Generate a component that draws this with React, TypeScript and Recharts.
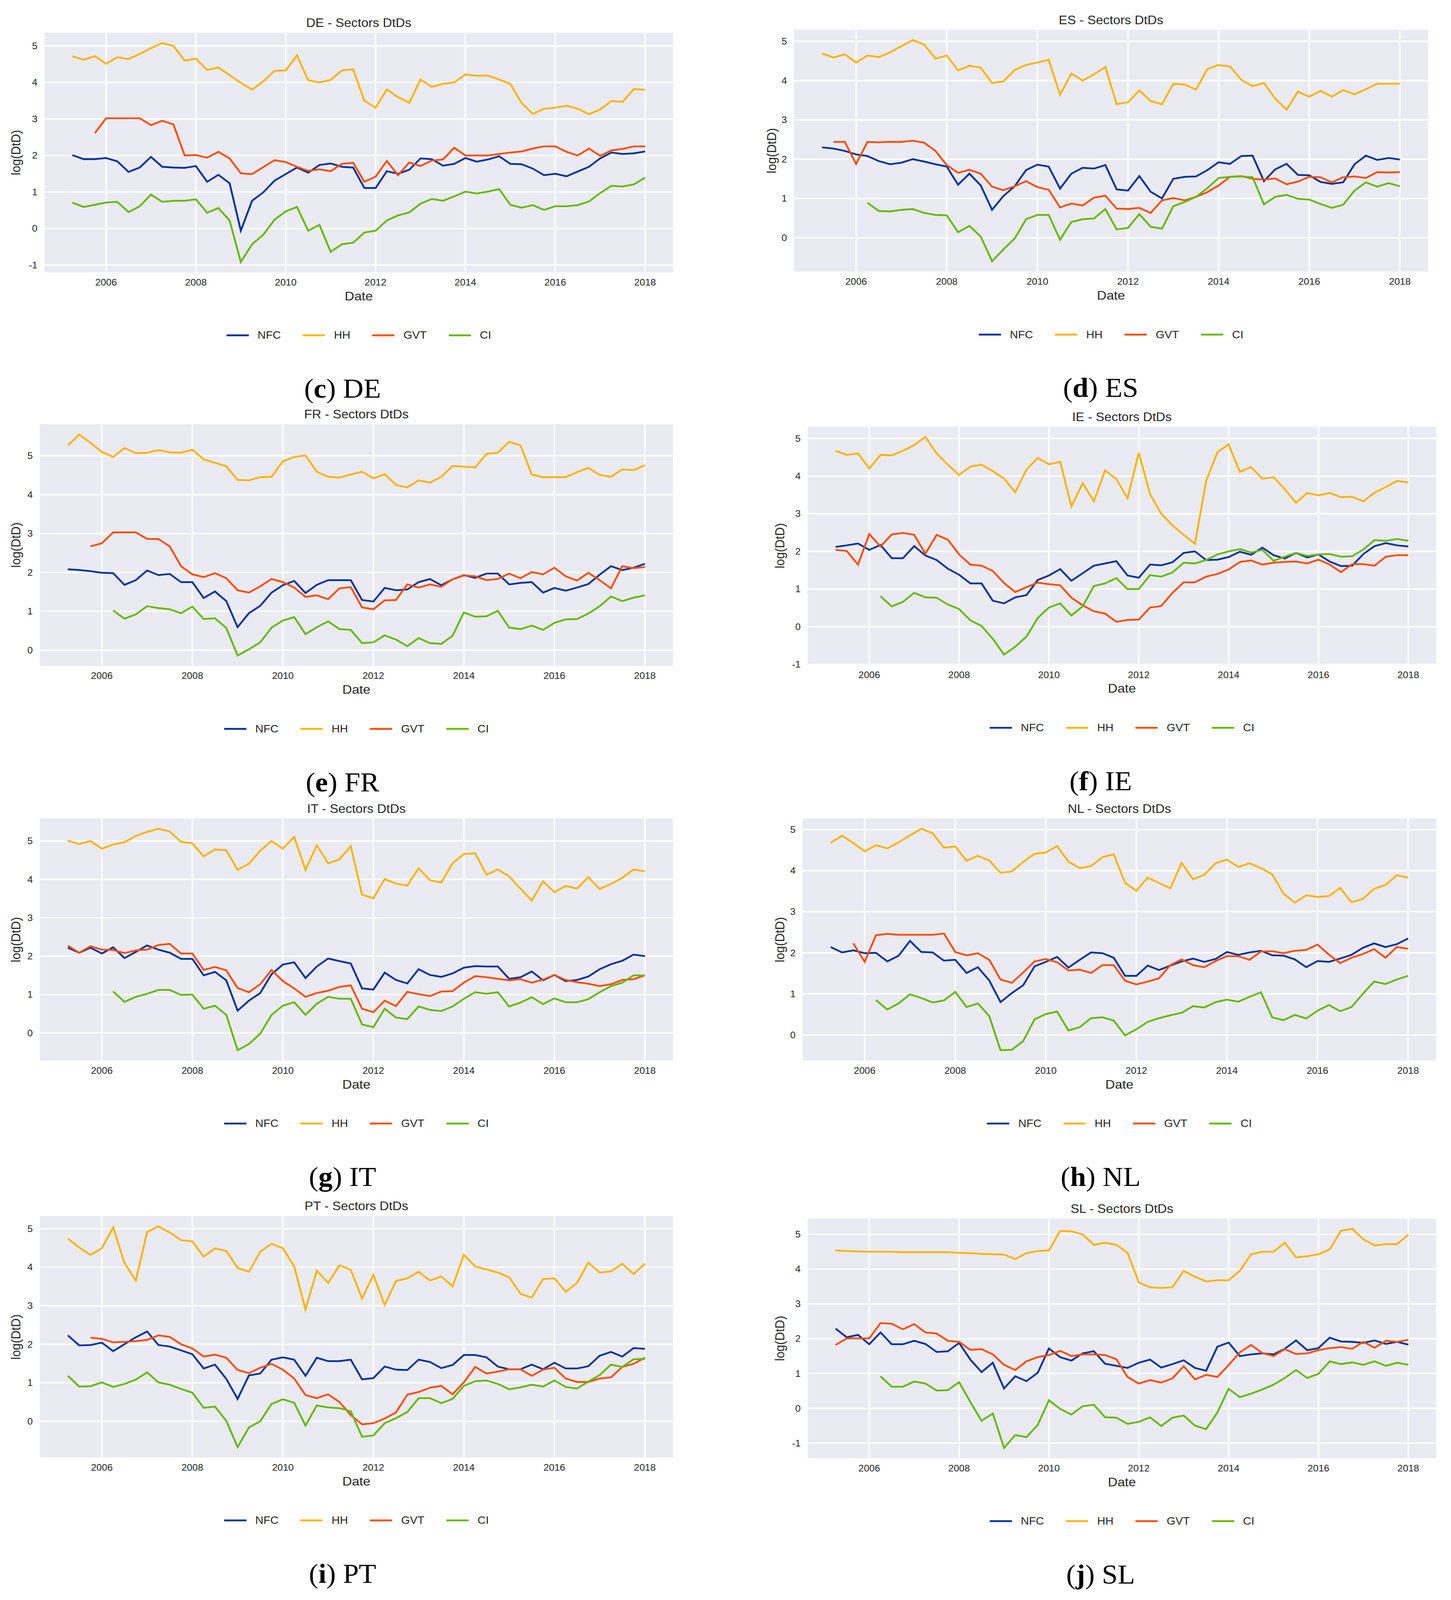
import React from "react";
import { LineChart, Line, XAxis, YAxis, CartesianGrid } from "recharts";

// quarterly observation dates
const quarters = [
  2005.25, 2005.5, 2005.75, 2006, 2006.25, 2006.5, 2006.75, 2007, 2007.25, 2007.5, 2007.75, 2008,
  2008.25, 2008.5, 2008.75, 2009, 2009.25, 2009.5, 2009.75, 2010, 2010.25, 2010.5, 2010.75, 2011,
  2011.25, 2011.5, 2011.75, 2012, 2012.25, 2012.5, 2012.75, 2013, 2013.25, 2013.5, 2013.75, 2014,
  2014.25, 2014.5, 2014.75, 2015, 2015.25, 2015.5, 2015.75, 2016, 2016.25, 2016.5, 2016.75, 2017,
  2017.25, 2017.5, 2017.75, 2018,
];
const xTicks = [2006, 2008, 2010, 2012, 2014, 2016, 2018];
const sectors = ["NFC", "HH", "GVT", "CI"];
const sectorColors = ["#003399", "#FFB300", "#FF4D00", "#66B800"];

type S = (number | null)[];
const _ = null;

const DE_NFC: S = [2.01,1.9,1.9,1.93,1.84,1.55,1.67,1.96,1.69,1.67,1.66,1.71,1.28,1.47,1.24,-0.06,0.76,0.99,1.31,1.49,1.67,1.53,1.74,1.78,1.69,1.67,1.11,1.11,1.57,1.5,1.61,1.92,1.9,1.72,1.77,1.93,1.83,1.89,1.98,1.77,1.76,1.64,1.46,1.5,1.43,1.56,1.69,1.92,2.08,2.04,2.06,2.11];
const DE_HH: S = [4.72,4.62,4.72,4.51,4.69,4.64,4.78,4.94,5.08,5.0,4.6,4.65,4.34,4.41,4.2,3.99,3.8,4.03,4.32,4.33,4.74,4.06,4.0,4.07,4.33,4.36,3.5,3.31,3.81,3.6,3.44,4.08,3.88,3.96,4.0,4.22,4.18,4.19,4.08,3.96,3.44,3.14,3.28,3.31,3.36,3.28,3.13,3.26,3.49,3.47,3.82,3.8];
const DE_GVT: S = [_,_,2.61,3.02,3.02,3.02,3.02,2.83,2.95,2.85,2.0,2.01,1.94,2.1,1.92,1.51,1.49,1.68,1.87,1.82,1.69,1.58,1.62,1.57,1.77,1.8,1.28,1.42,1.85,1.46,1.81,1.71,1.86,1.89,2.21,2.0,2.0,2.0,2.04,2.08,2.11,2.19,2.25,2.25,2.1,2.0,2.19,1.99,2.14,2.18,2.25,2.25];
const DE_CI: S = [0.71,0.59,0.65,0.71,0.73,0.45,0.61,0.93,0.73,0.76,0.76,0.8,0.43,0.56,0.22,-0.92,-0.43,-0.17,0.24,0.47,0.59,-0.06,0.1,-0.64,-0.43,-0.39,-0.11,-0.06,0.22,0.36,0.44,0.68,0.81,0.76,0.88,1.01,0.96,1.01,1.08,0.65,0.57,0.64,0.51,0.61,0.61,0.64,0.74,0.97,1.17,1.15,1.21,1.39];

const ES_NFC: S = [2.3,2.27,2.21,2.12,2.08,1.95,1.87,1.91,2.0,1.94,1.87,1.81,1.35,1.63,1.33,0.71,1.06,1.31,1.72,1.86,1.81,1.25,1.63,1.78,1.76,1.85,1.23,1.2,1.57,1.17,1.0,1.5,1.55,1.56,1.72,1.92,1.88,2.08,2.09,1.44,1.74,1.88,1.6,1.59,1.42,1.37,1.41,1.87,2.09,1.98,2.03,1.99];
const ES_HH: S = [4.69,4.59,4.67,4.46,4.64,4.6,4.72,4.88,5.03,4.92,4.56,4.64,4.26,4.38,4.33,3.94,3.98,4.27,4.4,4.46,4.53,3.64,4.18,4.0,4.16,4.35,3.4,3.45,3.75,3.48,3.4,3.92,3.9,3.77,4.29,4.4,4.36,4.02,3.86,3.94,3.54,3.26,3.72,3.59,3.74,3.59,3.76,3.65,3.78,3.92,3.92,3.92];
const ES_GVT: S = [_,2.44,2.44,1.88,2.44,2.43,2.44,2.44,2.47,2.42,2.21,1.85,1.65,1.73,1.63,1.3,1.21,1.31,1.44,1.29,1.22,0.77,0.87,0.82,1.02,1.07,0.74,0.73,0.76,0.63,0.95,1.01,0.95,1.04,1.16,1.33,1.55,1.57,1.5,1.48,1.51,1.36,1.43,1.55,1.54,1.41,1.54,1.56,1.52,1.67,1.66,1.67];
const ES_CI: S = [_,_,_,_,0.89,0.68,0.67,0.71,0.73,0.63,0.58,0.57,0.14,0.3,0.03,-0.6,-0.3,-0.02,0.47,0.58,0.58,-0.05,0.4,0.47,0.49,0.73,0.21,0.25,0.6,0.28,0.23,0.8,0.91,1.04,1.26,1.52,1.55,1.56,1.54,0.85,1.04,1.09,0.99,0.97,0.86,0.76,0.84,1.2,1.41,1.3,1.39,1.31];

const FR_NFC: S = [2.08,2.06,2.03,1.99,1.98,1.68,1.8,2.05,1.93,1.96,1.75,1.75,1.34,1.51,1.26,0.59,0.95,1.14,1.48,1.67,1.78,1.47,1.68,1.8,1.8,1.8,1.29,1.25,1.6,1.54,1.56,1.75,1.83,1.67,1.82,1.93,1.86,1.97,1.97,1.69,1.73,1.75,1.48,1.6,1.53,1.61,1.7,1.94,2.16,2.06,2.12,2.22];
const FR_HH: S = [5.27,5.55,5.33,5.1,4.97,5.2,5.07,5.08,5.15,5.09,5.08,5.16,4.91,4.82,4.73,4.38,4.37,4.45,4.46,4.86,4.97,5.01,4.59,4.46,4.44,4.52,4.59,4.42,4.53,4.25,4.19,4.37,4.31,4.46,4.74,4.72,4.7,5.05,5.08,5.36,5.27,4.52,4.45,4.45,4.45,4.58,4.69,4.51,4.46,4.65,4.63,4.76];
const FR_GVT: S = [_,_,2.67,2.75,3.03,3.03,3.03,2.86,2.86,2.67,2.16,1.95,1.88,1.98,1.85,1.54,1.48,1.64,1.83,1.75,1.61,1.37,1.41,1.31,1.59,1.62,1.1,1.05,1.28,1.29,1.69,1.61,1.69,1.63,1.82,1.92,1.9,1.8,1.83,1.97,1.85,2.01,1.95,2.12,1.9,1.79,1.99,1.8,1.59,2.16,2.11,2.14];
const FR_CI: S = [_,_,_,_,1.02,0.81,0.92,1.13,1.08,1.05,0.95,1.12,0.8,0.82,0.57,-0.14,0.02,0.2,0.58,0.76,0.85,0.41,0.59,0.74,0.54,0.52,0.18,0.2,0.38,0.27,0.1,0.31,0.18,0.16,0.37,0.97,0.86,0.87,1.01,0.58,0.54,0.63,0.52,0.7,0.79,0.8,0.94,1.13,1.38,1.26,1.35,1.41];

const IE_NFC: S = [2.12,2.16,2.21,2.04,2.17,1.82,1.82,2.14,1.89,1.77,1.54,1.38,1.15,1.15,0.69,0.62,0.78,0.84,1.24,1.36,1.53,1.22,1.42,1.62,1.68,1.74,1.36,1.3,1.65,1.63,1.71,1.96,2.0,1.77,1.78,1.85,1.99,1.91,2.1,1.9,1.81,1.96,1.84,1.92,1.73,1.61,1.62,1.93,2.14,2.22,2.16,2.13];
const IE_HH: S = [4.67,4.56,4.6,4.2,4.56,4.55,4.67,4.82,5.04,4.6,4.3,4.03,4.25,4.3,4.13,3.93,3.57,4.17,4.48,4.31,4.38,3.19,3.81,3.33,4.15,3.92,3.41,4.62,3.52,3.0,2.69,2.44,2.2,3.87,4.63,4.84,4.11,4.24,3.93,3.97,3.65,3.29,3.55,3.49,3.55,3.44,3.45,3.33,3.56,3.71,3.87,3.83];
const IE_GVT: S = [2.04,2.01,1.65,2.46,2.13,2.45,2.49,2.44,1.94,2.44,2.31,1.92,1.65,1.62,1.48,1.16,0.92,1.05,1.17,1.13,1.1,0.77,0.57,0.41,0.35,0.13,0.18,0.19,0.51,0.55,0.9,1.18,1.18,1.33,1.4,1.52,1.72,1.76,1.65,1.7,1.72,1.73,1.68,1.78,1.65,1.45,1.66,1.66,1.62,1.86,1.9,1.9];
const IE_CI: S = [_,_,_,_,0.81,0.54,0.66,0.9,0.78,0.77,0.59,0.47,0.17,0.02,-0.32,-0.74,-0.53,-0.26,0.23,0.51,0.62,0.3,0.54,1.08,1.15,1.29,1.0,1.0,1.37,1.33,1.44,1.7,1.68,1.77,1.92,2.0,2.06,1.97,2.04,1.75,1.86,1.96,1.88,1.92,1.93,1.86,1.87,2.05,2.3,2.28,2.33,2.28];

const IT_NFC: S = [2.22,2.09,2.22,2.07,2.23,1.95,2.11,2.28,2.17,2.09,1.93,1.93,1.5,1.59,1.37,0.58,0.84,1.04,1.53,1.78,1.84,1.43,1.73,1.94,1.87,1.81,1.16,1.13,1.57,1.38,1.29,1.66,1.51,1.46,1.55,1.7,1.74,1.73,1.73,1.41,1.45,1.6,1.37,1.51,1.35,1.38,1.47,1.66,1.79,1.88,2.04,2.0];
const IT_HH: S = [5.01,4.92,5.0,4.8,4.91,4.97,5.13,5.24,5.32,5.25,4.98,4.94,4.6,4.78,4.76,4.25,4.41,4.75,5.0,4.8,5.11,4.25,4.89,4.42,4.52,4.87,3.6,3.51,4.01,3.89,3.84,4.29,3.98,3.92,4.42,4.66,4.68,4.12,4.26,4.08,3.76,3.45,3.95,3.67,3.83,3.76,4.06,3.75,3.88,4.04,4.26,4.21];
const IT_GVT: S = [2.27,2.09,2.26,2.17,2.16,2.08,2.15,2.17,2.29,2.32,2.07,2.07,1.64,1.72,1.63,1.17,1.06,1.27,1.64,1.35,1.16,0.94,1.04,1.1,1.2,1.24,0.63,0.54,0.84,0.7,1.07,1.01,0.96,1.08,1.09,1.31,1.48,1.45,1.41,1.37,1.4,1.31,1.39,1.51,1.38,1.32,1.28,1.22,1.27,1.38,1.4,1.5];
const IT_CI: S = [_,_,_,_,1.08,0.81,0.94,1.02,1.12,1.12,0.99,1.0,0.63,0.71,0.47,-0.45,-0.29,-0.02,0.47,0.71,0.8,0.47,0.76,0.94,0.89,0.89,0.22,0.15,0.63,0.4,0.36,0.69,0.6,0.57,0.69,0.89,1.06,1.02,1.06,0.69,0.79,0.93,0.75,0.9,0.8,0.8,0.88,1.06,1.22,1.31,1.5,1.5];

const NL_NFC: S = [2.14,2.01,2.06,1.99,2.0,1.79,1.93,2.29,2.02,2.01,1.81,1.83,1.51,1.65,1.33,0.8,1.02,1.21,1.67,1.78,1.9,1.64,1.83,2.01,1.99,1.88,1.44,1.44,1.69,1.58,1.69,1.79,1.86,1.78,1.85,2.02,1.95,2.01,2.05,1.94,1.93,1.84,1.65,1.8,1.78,1.86,1.95,2.12,2.23,2.14,2.21,2.35];
const NL_HH: S = [4.68,4.85,4.67,4.47,4.62,4.54,4.69,4.86,5.02,4.91,4.56,4.59,4.24,4.36,4.25,3.95,3.98,4.21,4.41,4.44,4.6,4.22,4.06,4.11,4.33,4.4,3.7,3.51,3.83,3.7,3.57,4.19,3.79,3.9,4.18,4.27,4.09,4.18,4.06,3.91,3.44,3.22,3.4,3.36,3.38,3.58,3.23,3.31,3.56,3.65,3.89,3.83];
const NL_GVT: S = [_,_,2.23,1.78,2.43,2.46,2.44,2.44,2.44,2.44,2.47,2.02,1.94,1.99,1.83,1.35,1.27,1.52,1.79,1.85,1.77,1.57,1.59,1.51,1.7,1.7,1.32,1.23,1.3,1.38,1.7,1.84,1.7,1.65,1.8,1.92,1.92,1.83,2.03,2.04,1.99,2.05,2.07,2.2,1.96,1.75,1.88,1.97,2.09,1.88,2.14,2.1];
const NL_CI: S = [_,_,_,_,0.85,0.62,0.77,0.99,0.9,0.79,0.84,1.05,0.68,0.77,0.46,-0.37,-0.36,-0.15,0.38,0.51,0.57,0.11,0.19,0.41,0.43,0.35,-0.01,0.14,0.32,0.41,0.48,0.54,0.7,0.67,0.8,0.86,0.81,0.93,1.04,0.43,0.36,0.49,0.4,0.59,0.73,0.58,0.68,1.0,1.3,1.24,1.35,1.44];

const PT_NFC: S = [2.23,1.97,1.98,2.04,1.82,2.0,2.18,2.33,1.98,1.94,1.84,1.74,1.37,1.47,1.1,0.58,1.19,1.24,1.6,1.66,1.6,1.18,1.65,1.56,1.56,1.6,1.09,1.12,1.42,1.34,1.33,1.6,1.54,1.38,1.46,1.72,1.72,1.66,1.42,1.35,1.35,1.47,1.35,1.52,1.37,1.37,1.43,1.7,1.8,1.68,1.9,1.88];
const PT_HH: S = [4.74,4.51,4.32,4.49,5.03,4.11,3.65,4.91,5.06,4.9,4.7,4.67,4.27,4.49,4.42,3.98,3.88,4.4,4.61,4.49,4.02,2.9,3.91,3.59,4.05,3.93,3.19,3.8,3.02,3.64,3.71,3.88,3.65,3.76,3.5,4.32,4.02,3.94,3.86,3.74,3.31,3.21,3.69,3.71,3.36,3.59,4.12,3.86,3.89,4.09,3.82,4.09];
const PT_GVT: S = [_,_,2.17,2.14,2.05,2.06,2.08,2.11,2.23,2.19,2.0,1.89,1.68,1.73,1.65,1.33,1.25,1.39,1.49,1.34,1.11,0.68,0.6,0.7,0.5,0.16,-0.08,-0.05,0.07,0.23,0.69,0.76,0.87,0.92,0.7,1.01,1.41,1.24,1.29,1.35,1.35,1.18,1.34,1.39,1.11,1.02,1.02,1.11,1.14,1.41,1.49,1.65];
const PT_CI: S = [1.18,0.9,0.91,1.01,0.89,0.97,1.08,1.27,1.01,0.95,0.84,0.74,0.35,0.38,0.01,-0.67,-0.16,0.0,0.45,0.57,0.48,-0.11,0.41,0.36,0.34,0.26,-0.4,-0.37,-0.05,0.08,0.24,0.6,0.6,0.47,0.58,0.92,1.04,1.06,0.97,0.83,0.88,0.95,0.9,1.06,0.89,0.85,1.03,1.2,1.47,1.41,1.61,1.62];

const SL_NFC: S = [2.29,2.04,2.11,1.84,2.18,1.84,1.84,1.94,1.85,1.62,1.64,1.88,1.4,1.04,1.31,0.57,0.92,0.78,1.02,1.72,1.47,1.37,1.58,1.64,1.28,1.22,1.16,1.31,1.4,1.17,1.27,1.38,1.16,1.08,1.77,1.89,1.5,1.55,1.58,1.55,1.71,1.95,1.67,1.73,2.03,1.92,1.91,1.88,1.95,1.85,1.91,1.83];
const SL_HH: S = [4.54,4.52,4.51,4.5,4.5,4.5,4.49,4.49,4.49,4.49,4.49,4.47,4.46,4.44,4.43,4.42,4.29,4.46,4.52,4.54,5.1,5.09,5.0,4.7,4.76,4.7,4.47,3.62,3.48,3.46,3.48,3.95,3.78,3.65,3.68,3.68,3.95,4.43,4.5,4.5,4.76,4.34,4.37,4.43,4.57,5.1,5.16,4.86,4.68,4.72,4.72,4.99];
const SL_GVT: S = [1.82,2.01,2.01,2.01,2.45,2.43,2.27,2.42,2.18,2.15,1.94,1.91,1.68,1.7,1.55,1.25,1.1,1.35,1.47,1.53,1.65,1.5,1.55,1.55,1.53,1.41,0.9,0.71,0.81,0.74,0.86,1.21,0.83,0.96,0.9,1.24,1.61,1.82,1.59,1.5,1.7,1.56,1.58,1.67,1.73,1.76,1.71,1.91,1.74,1.94,1.91,1.97];
const SL_CI: S = [_,_,_,_,0.92,0.62,0.62,0.77,0.71,0.51,0.52,0.75,0.18,-0.36,-0.15,-1.14,-0.77,-0.83,-0.48,0.23,-0.02,-0.18,0.06,0.1,-0.26,-0.27,-0.45,-0.39,-0.26,-0.51,-0.27,-0.21,-0.5,-0.6,-0.12,0.56,0.32,0.42,0.54,0.68,0.87,1.1,0.87,0.99,1.35,1.27,1.32,1.25,1.35,1.22,1.31,1.25];

// plot box: [left, right, top, bottom] in page pixels
const panels = [
  { code: "DE", letter: "c", values: [DE_NFC, DE_HH, DE_GVT, DE_CI], plot: [112, 1725, 87, 741], yLabelX: 40, captionX: 877 },
  { code: "ES", letter: "d", values: [ES_NFC, ES_HH, ES_GVT, ES_CI], plot: [2031, 3658, 79, 739], yLabelX: 1975, captionX: 2818 },
  { code: "FR", letter: "e", values: [FR_NFC, FR_HH, FR_GVT, FR_CI], plot: [100, 1725, 1149, 1809], yLabelX: 40, captionX: 877 },
  { code: "IE", letter: "f", values: [IE_NFC, IE_HH, IE_GVT, IE_CI], plot: [2066, 3679, 1156, 1806], yLabelX: 1996, captionX: 2818 },
  { code: "IT", letter: "g", values: [IT_NFC, IT_HH, IT_GVT, IT_CI], plot: [100, 1725, 2219, 2880], yLabelX: 40, captionX: 877 },
  { code: "NL", letter: "h", values: [NL_NFC, NL_HH, NL_GVT, NL_CI], plot: [2053, 3679, 2219, 2880], yLabelX: 1996, captionX: 2818 },
  { code: "PT", letter: "i", values: [PT_NFC, PT_HH, PT_GVT, PT_CI], plot: [100, 1725, 3298, 3957], yLabelX: 40, captionX: 877 },
  { code: "SL", letter: "j", values: [SL_NFC, SL_HH, SL_GVT, SL_CI], plot: [2066, 3679, 3305, 3959], yLabelX: 1996, captionX: 2818 },
];

const PAGE_W = 3715;
const PAGE_H = 4342;
const SANS = "'Liberation Sans', Arial, sans-serif";
const TXT = "#262626";
const xPad = (quarters[quarters.length - 1] - quarters[0]) * 0.05;
const xDomain = [quarters[0] - xPad, quarters[quarters.length - 1] + xPad];

const centered = (x: number, y: number, extra: React.CSSProperties = {}): React.CSSProperties => ({
  position: "absolute",
  left: x,
  top: y,
  transform: "translate(-50%, -50%)",
  whiteSpace: "nowrap",
  lineHeight: 1,
  ...extra,
});

function Panel({ p }: { p: (typeof panels)[number] }) {
  const [L, R, T, B] = p.plot;
  const yAxisW = 100;
  const xAxisH = 60;
  const padT = 10;
  const padR = 20;

  const rows = quarters.map((q, i) => {
    const row: Record<string, number | null> = { date: q };
    sectors.forEach((s, k) => (row[s] = p.values[k][i]));
    return row;
  });

  const all = p.values.flat().filter((v) => v !== null) as number[];
  const lo = Math.min(...all);
  const hi = Math.max(...all);
  const pad = (hi - lo) * 0.05;
  const yTicks: number[] = [];
  for (let v = Math.ceil(lo - pad); v <= Math.floor(hi + pad); v++) yTicks.push(v);

  const cx = (L + R) / 2;
  const tick = { fontSize: 25, fill: TXT, fontFamily: SANS };

  return (
    <>
      <div style={{ position: "absolute", left: L - yAxisW, top: T - padT }}>
        <LineChart
          width={R - L + yAxisW + padR}
          height={B - T + padT + xAxisH}
          data={rows}
          margin={{ top: padT, right: padR, bottom: 0, left: 0 }}
        >
          <CartesianGrid stroke="#FFFFFF" strokeWidth={3.8} fill="#EAEAF2" fillOpacity={1} />
          <XAxis
            dataKey="date"
            type="number"
            domain={xDomain}
            ticks={xTicks}
            interval={0}
            allowDataOverflow
            axisLine={false}
            tickLine={false}
            tickSize={0}
            tickMargin={16}
            height={xAxisH}
            tick={tick}
          />
          <YAxis
            type="number"
            domain={[lo - pad, hi + pad]}
            ticks={yTicks}
            interval={0}
            allowDataOverflow
            axisLine={false}
            tickLine={false}
            tickSize={0}
            tickMargin={16}
            width={yAxisW}
            tick={tick}
          />
          {sectors.map((s, k) => (
            <Line
              key={s}
              type="linear"
              dataKey={s}
              stroke={sectorColors[k]}
              strokeWidth={4.8}
              dot={false}
              activeDot={false}
              isAnimationActive={false}
            />
          ))}
        </LineChart>
      </div>

      <div style={centered(cx, T - 25, { fontFamily: SANS, fontSize: 33, color: TXT })}>
        {p.code} - Sectors DtDs
      </div>
      <div
        style={centered(p.yLabelX, (T + B) / 2, {
          fontFamily: SANS,
          fontSize: 33,
          color: TXT,
          transform: "translate(-50%, -50%) rotate(-90deg)",
        })}
      >
        log(DtD)
      </div>
      <div style={centered(cx, B + 62, { fontFamily: SANS, fontSize: 34, color: TXT })}>Date</div>

      <div style={centered(cx, B + 169, { display: "flex", alignItems: "center", fontFamily: SANS, fontSize: 29, color: TXT })}>
        {sectors.map((s, k) => (
          <div key={s} style={{ display: "flex", alignItems: "center", marginLeft: k === 0 ? 0 : 56 }}>
            <div style={{ width: 57, height: 5, background: sectorColors[k], marginRight: 23 }} />
            <span>{s}</span>
          </div>
        ))}
      </div>

      <div style={centered(p.captionX, B + 314, { fontFamily: "'Liberation Serif', 'Times New Roman', serif", fontSize: 73, color: "#000" })}>
        (<b>{p.letter}</b>) {p.code}
      </div>
    </>
  );
}

export default function App() {
  document.body.style.margin = "0";
  document.body.style.overflow = "hidden";
  // the visible page can be shorter than the figure: squeeze it vertically so nothing is cut
  const fit = Math.min(1, (window.innerHeight || PAGE_H) / PAGE_H);
  return (
    <div style={{ width: PAGE_W, height: Math.floor(PAGE_H * fit), overflow: "hidden", background: "#FFFFFF" }}>
      <div
        style={{
          position: "relative",
          width: PAGE_W,
          height: PAGE_H,
          background: "#FFFFFF",
          transform: `scale(1, ${fit})`,
          transformOrigin: "0 0",
        }}
      >
        {panels.map((p) => (
          <Panel key={p.code} p={p} />
        ))}
      </div>
    </div>
  );
}
